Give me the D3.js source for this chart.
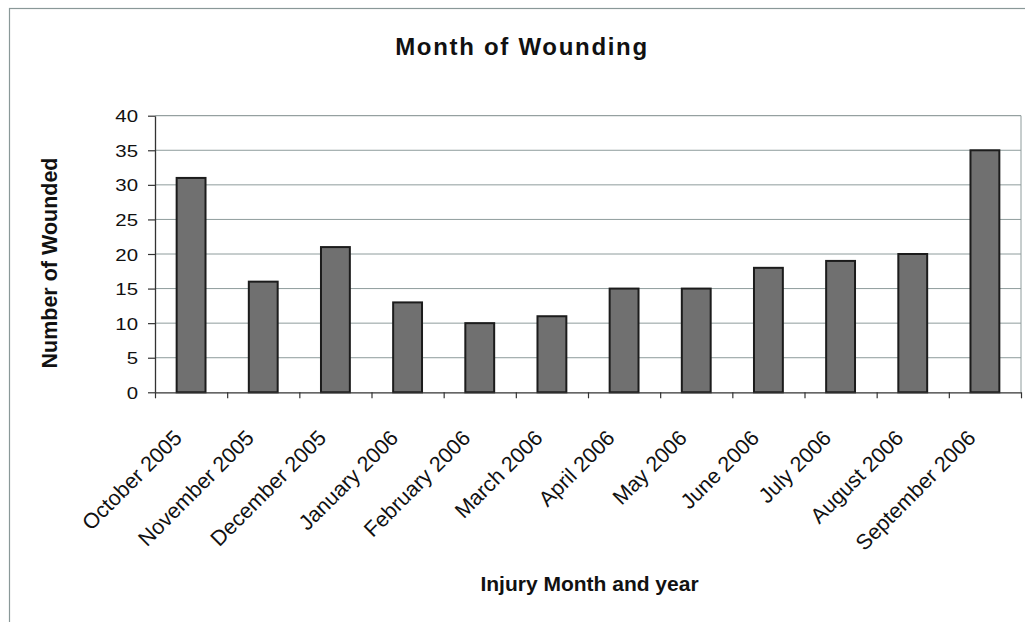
<!DOCTYPE html>
<html>
<head>
<meta charset="utf-8">
<script src="https://cdn.jsdelivr.net/npm/d3@7"></script>
<style>
  html, body { margin: 0; padding: 0; background: #fff; }
  svg { display: block; }
  text { font-family: Arial, "Liberation Sans", sans-serif; fill: #111; }
</style>
</head>
<body>
<svg id="chart" width="1025" height="622"></svg>
<script>
const categories = ["October 2005","November 2005","December 2005","January 2006","February 2006","March 2006","April 2006","May 2006","June 2006","July 2006","August 2006","September 2006"];
const values = [31, 16, 21, 13, 10, 11, 15, 15, 18, 19, 20, 35];
const yTicks = [0, 5, 10, 15, 20, 25, 30, 35, 40];
const titleText = "Month of Wounding";
const yTitle = "Number of Wounded";
const xTitle = "Injury Month and year";

const W = 1025, H = 622;
const plot = { left: 155, right: 1021, top: 115.7, bottom: 392.3 };

const svg = d3.select("#chart");

// outer frame
svg.append("rect")
  .attr("x", 9.5).attr("y", 8.5)
  .attr("width", W + 20).attr("height", H + 20)
  .attr("fill", "#fff").attr("stroke", "#8a9898").attr("stroke-width", 1.2);

const x = d3.scaleBand().domain(categories)
  .range([plot.left, plot.right]).paddingInner(0.6).paddingOuter(0.3);
const xIdx = d3.scaleLinear().domain([0, categories.length]).range([plot.left, plot.right]);
const y = d3.scaleLinear().domain([0, 40]).range([plot.bottom, plot.top]);

// gridlines
svg.append("g").selectAll("line").data(yTicks.filter(d => d > 0)).join("line")
  .attr("x1", plot.left).attr("x2", plot.right)
  .attr("y1", d => y(d)).attr("y2", d => y(d))
  .attr("stroke", d => d === 40 ? "#7d8a8a" : "#8e9c9c").attr("stroke-width", 1);

// plot right border
svg.append("line")
  .attr("x1", plot.right).attr("x2", plot.right)
  .attr("y1", plot.top).attr("y2", plot.bottom)
  .attr("stroke", "#8e9c9c").attr("stroke-width", 1);

// bars
svg.append("g").selectAll("rect").data(values).join("rect")
  .attr("x", (d, i) => x(categories[i]))
  .attr("y", d => y(d))
  .attr("width", x.bandwidth())
  .attr("height", d => plot.bottom - y(d))
  .attr("fill", "#707070")
  .attr("stroke", "#1c1c1c").attr("stroke-width", 2);

// y axis
const yAxis = svg.append("g")
  .attr("transform", `translate(${plot.left},0)`)
  .call(d3.axisLeft(y).tickValues(yTicks).tickSize(7).tickPadding(10).tickSizeOuter(0));
yAxis.select(".domain").attr("stroke", "#333").attr("stroke-width", 1.3);
yAxis.selectAll(".tick line").attr("stroke", "#333").attr("stroke-width", 1.2);
yAxis.selectAll(".tick text")
  .attr("font-size", 17)
  .attr("fill", "#111")
  .attr("transform", "scale(1.2,1)")
  .attr("x", -17 / 1.2)
  .attr("dy", "0.36em");

// x axis tick marks at category boundaries
const xTickAxis = svg.append("g")
  .attr("transform", `translate(0,${plot.bottom})`)
  .call(d3.axisBottom(xIdx).tickValues(d3.range(categories.length + 1))
    .tickSize(6).tickFormat("").tickSizeOuter(0));
xTickAxis.select(".domain").attr("stroke", "#333").attr("stroke-width", 1.3);
xTickAxis.selectAll(".tick line").attr("stroke", "#333").attr("stroke-width", 1.2);

// x axis labels
const xAxis = svg.append("g")
  .attr("transform", `translate(0,${plot.bottom})`)
  .call(d3.axisBottom(x).tickSize(0));
xAxis.select(".domain").remove();
xAxis.selectAll(".tick text")
  .attr("font-size", 21.5)
  .attr("fill", "#111")
  .attr("text-anchor", "end")
  .attr("x", 0).attr("y", 0).attr("dy", 0)
  .attr("transform", "translate(-8,47) rotate(-45)");

// title
svg.append("text")
  .attr("x", 522).attr("y", 54.5)
  .attr("text-anchor", "middle")
  .attr("font-size", 24).attr("font-weight", "bold")
  .attr("letter-spacing", 1.7)
  .text(titleText);

// y title
svg.append("text")
  .attr("transform", "translate(56.5,263) rotate(-90)")
  .attr("text-anchor", "middle")
  .attr("font-size", 21.5).attr("font-weight", "bold")
  .text(yTitle);

// x title
svg.append("text")
  .attr("x", 589.5).attr("y", 590.7)
  .attr("text-anchor", "middle")
  .attr("font-size", 21).attr("font-weight", "bold")
  .text(xTitle);
</script>
</body>
</html>
